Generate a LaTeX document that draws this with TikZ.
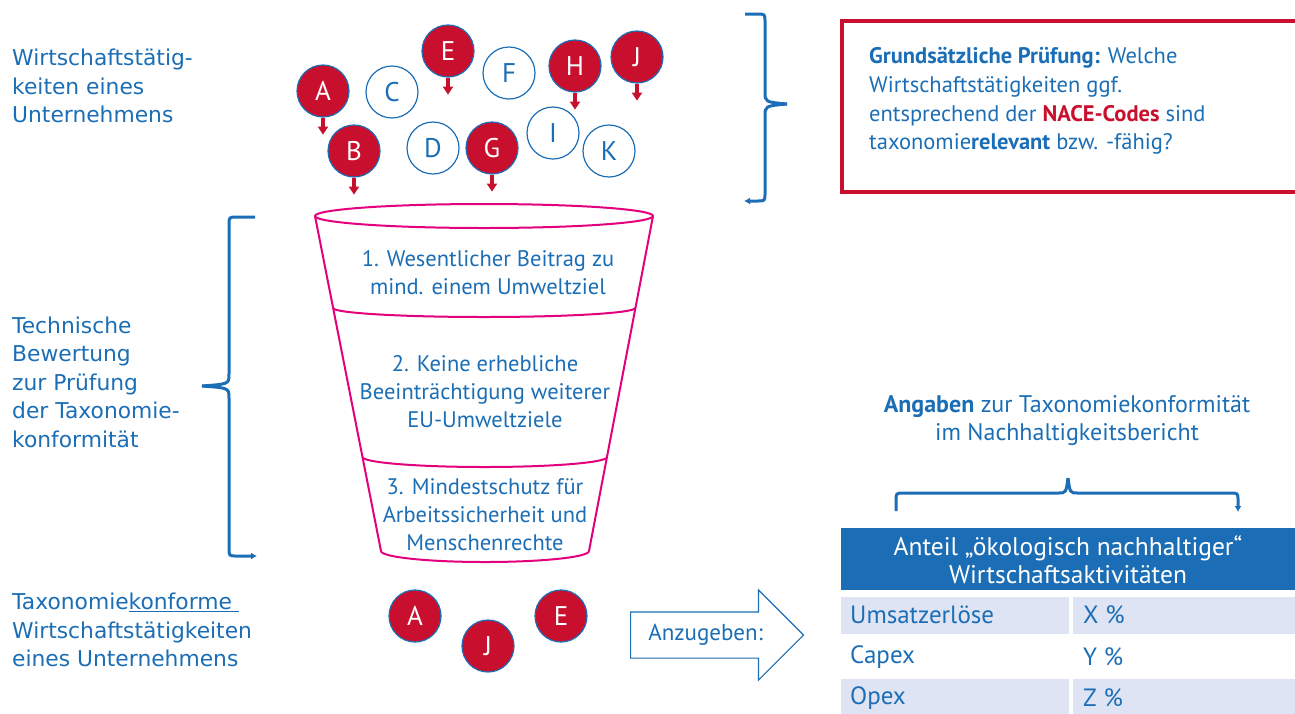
\documentclass[tikz,border=0pt]{standalone}
\usepackage{fontspec}
\setmainfont{PT Sans}
\newfontfamily\lblfont{DejaVu Sans}
\usetikzlibrary{arrows.meta,shapes.arrows}

\definecolor{tblue}{RGB}{27,110,181}
\definecolor{tred}{RGB}{200,16,46}
\definecolor{tpink}{RGB}{228,0,124}
\definecolor{trow}{RGB}{222,228,243}

\tikzset{
  act/.style={circle, draw=tblue, line width=1.2pt, minimum size=52pt, inner sep=0pt, font=\fontsize{27}{27}\selectfont},
  hit/.style={act, fill=tred, text=white},
  miss/.style={act, fill=white, text=tblue},
  drop/.style={tred, line width=3.5pt, -{Triangle[width=10pt,length=8pt]}},
  brace/.style={tblue, line width=3pt},
  band/.style={tpink, line width=2pt},
  lbl/.style={anchor=west, align=left, inner sep=0pt, text=tblue, font=\lblfont\fontsize{21.8}{28.5}\selectfont},
  txt/.style={inner sep=0pt, text=tblue, font=\fontsize{22.5}{28}\selectfont},
  cell/.style={anchor=west, inner sep=0pt, text=tblue, font=\fontsize{25}{28}\selectfont}
}

\begin{document}
\begin{tikzpicture}[x=1pt,y=-1pt]
    \useasboundingbox (0,0) rectangle (1295,713);
    \clip (0,0) rectangle (1295,713);

    % left labels
    \node[lbl] (acts) at (12,86) {Wirtschaftstätig-\\keiten eines\\Unternehmens};
    \node[lbl] (eval) at (12,382) {Technische\\Bewertung\\zur Prüfung\\der Taxonomie-\\konformität};
    \node[lbl] (conf) at (12,630) {Taxonomie\underline{konforme\ }\\Wirtschaftstätigkeiten\\eines Unternehmens};

    % activities
    \node[hit] (A) at (323,91) {A};
    \node[miss] (C) at (392,92) {C};
    \node[hit] (E) at (448,51) {E};
    \node[miss] (F) at (509,73) {F};
    \node[hit] (H) at (575,66) {H};
    \node[hit] (J) at (637,57) {J};
    \node[hit] (B) at (354,151) {B};
    \node[miss] (D) at (433,148) {D};
    \node[hit] (G) at (492,148) {G};
    \node[miss] (I) at (553,133) {I};
    \node[miss] (K) at (609,151) {K};
    \draw[drop] (A.south) -- ++(0,17);
    \draw[drop] (B.south) -- ++(0,17);
    \draw[drop] (E.south) -- ++(0,17);
    \draw[drop] (G.south) -- ++(0,17);
    \draw[drop] (H.south) -- ++(0,17);
    \draw[drop] (J.south) -- ++(0,17);

    % funnel
    \draw[band] (484,216) ellipse [x radius=169pt, y radius=12pt];
    \draw[band] (315,216) -- (381,551);
    \draw[band] (653,216) -- (589,551);
    \draw[band] (333,308) arc[start angle=180, end angle=360, x radius=151pt, y radius=9pt];
    \draw[band] (362.5,457) arc[start angle=180, end angle=360, x radius=122.3pt, y radius=10pt];
    \draw[band] (381,551) arc[start angle=180, end angle=360, x radius=104pt, y radius=11pt];
    \node[txt, align=center] (step1) at (488,273) {1. Wesentlicher Beitrag zu\\mind. einem Umweltziel};
    \node[txt, align=center] (step2) at (485,392) {2. Keine erhebliche\\Beeinträchtigung weiterer\\EU-Umweltziele};
    \node[txt, align=center] (step3) at (485,515) {3. Mindestschutz für\\Arbeitssicherheit und\\Menschenrechte};

    % braces
    \draw[brace] (255,217) -- (237,217) .. controls (229,217) .. (229,225) -- (229,374) .. controls (229,384) .. (202,386);
    \draw[brace, -{Latex[length=6pt,width=7pt]}] (202,386) .. controls (229,388) .. (229,398) -- (229,548) .. controls (229,556) .. (237,556) -- (257,556);
    \draw[brace] (745,14) -- (757,14) .. controls (765,14) .. (765,22) -- (765,92) .. controls (765,102) .. (787,104);
    \draw[brace, -{Latex[length=6pt,width=7pt]}] (787,104) .. controls (765,106) .. (765,116) -- (765,193) .. controls (765,201) .. (757,201) -- (744,201);
    \draw[brace] (896,511) -- (896,501) .. controls (896,493) .. (904,493) -- (1058,493) .. controls (1066,493) .. (1068,478);
    \draw[brace, -{Latex[length=6pt,width=7pt]}] (1068,478) .. controls (1070,493) .. (1078,493) -- (1230,493) .. controls (1238,493) .. (1238,501) -- (1238,512);

    % check box
    \draw[tred, line width=4pt] (842,21) rectangle (1310,192);
    \node[txt, anchor=west, align=left, font=\fontsize{22.5}{28.7}\selectfont] (check) at (869,101) {\textbf{Grundsätzliche Prüfung:} Welche\\Wirtschaftstätigkeiten ggf.\\entsprechend der \textcolor{tred}{\textbf{NACE-Codes}} sind\\taxonomie\textbf{relevant} bzw. -fähig?};

    % result
    \node[hit] (A2) at (415,616) {A};
    \node[hit] (J2) at (488,646) {J};
    \node[hit] (E2) at (561,616) {E};
    \node[single arrow, draw=tblue, line width=1.2pt, fill=white, minimum height=173pt, single arrow head extend=22pt, text width=116pt, align=center, text height=16pt, text depth=5pt, inner ysep=12pt, inner xsep=6pt, text=tblue, font=\fontsize{23}{23}\selectfont, anchor=tail] (give) at (630,635) {Anzugeben:};

    % report table
    \node[txt, align=center, font=\fontsize{24}{28}\selectfont] (info) at (1067,421) {\textbf{Angaben} zur Taxonomiekonformität\\im Nachhaltigkeitsbericht};
    \fill[tblue] (841,528) rectangle (1300,590);
    \node[txt, align=center, text=white, font=\fontsize{25.5}{28}\selectfont] (head) at (1068,560) {Anteil „ökologisch nachhaltiger“\\Wirtschaftsaktivitäten};
    \fill[trow] (841,597) rectangle (1069,634);
    \fill[trow] (1073,597) rectangle (1300,634);
    \fill[trow] (841,679) rectangle (1069,720);
    \fill[trow] (1073,679) rectangle (1300,720);
    \node[cell] (rev) at (850,615) {Umsatzerlöse};
    \node[cell] (revv) at (1083,615) {X \%};
    \node[cell] (capex) at (850,657) {Capex};
    \node[cell] (capexv) at (1083,657) {Y \%};
    \node[cell] (opex) at (850,698) {Opex};
    \node[cell] (opexv) at (1083,698) {Z \%};
\end{tikzpicture}
\end{document}
